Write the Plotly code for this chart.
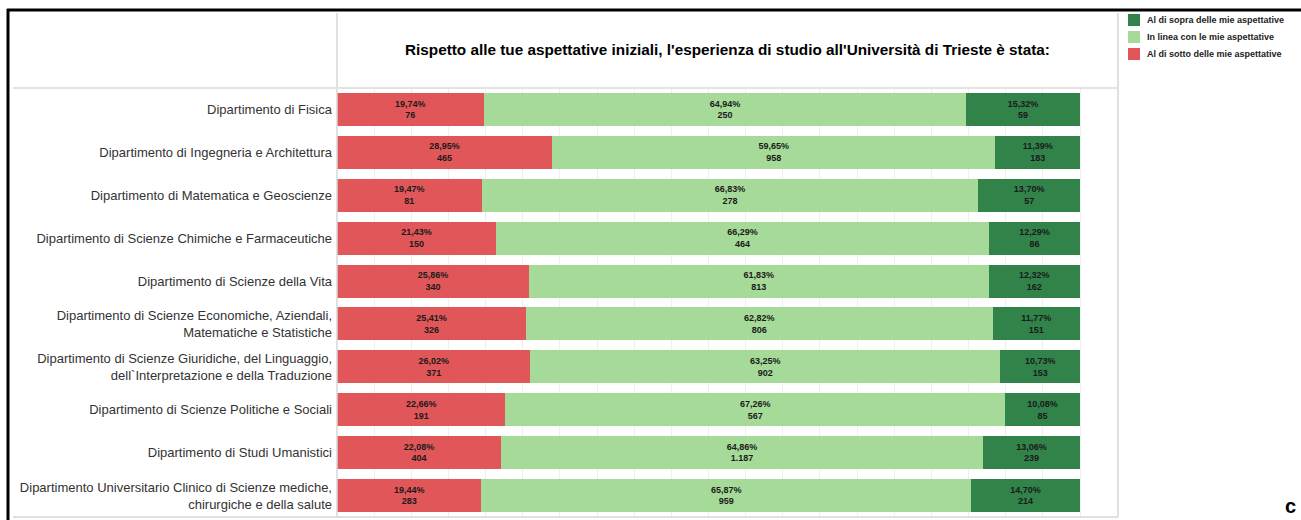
import plotly.graph_objects as go

departments = [
    "Dipartimento di Fisica",
    "Dipartimento di Ingegneria e Architettura",
    "Dipartimento di Matematica e Geoscienze",
    "Dipartimento di Scienze Chimiche e Farmaceutiche",
    "Dipartimento di Scienze della Vita",
    "Dipartimento di Scienze Economiche, Aziendali,<br>Matematiche e Statistiche",
    "Dipartimento di Scienze Giuridiche, del Linguaggio,<br>dell`Interpretazione e della Traduzione",
    "Dipartimento di Scienze Politiche e Sociali",
    "Dipartimento di Studi Umanistici",
    "Dipartimento Universitario Clinico di Scienze mediche,<br>chirurgiche e della salute",
]

below_pct = [19.74, 28.95, 19.47, 21.43, 25.86, 25.41, 26.02, 22.66, 22.08, 19.44]
below_n = [76, 465, 81, 150, 340, 326, 371, 191, 404, 283]
inline_pct = [64.94, 59.65, 66.83, 66.29, 61.83, 62.82, 63.25, 67.26, 64.86, 65.87]
inline_n = [250, 958, 278, 464, 813, 806, 902, 567, 1187, 959]
above_pct = [15.32, 11.39, 13.70, 12.29, 12.32, 11.77, 10.73, 10.08, 13.06, 14.70]
above_n = [59, 183, 57, 86, 162, 151, 153, 85, 239, 214]

series_names = ["Al di sotto delle mie aspettative", "In linea con le mie aspettative", "Al di sopra delle mie aspettative"]
series_colors = ["#E15759", "#A6DA98", "#31834A"]
series_pct = [below_pct, inline_pct, above_pct]
series_n = [below_n, inline_n, above_n]

title_text = "Rispetto alle tue aspettative iniziali, l'esperienza di studio all'Università di Trieste è stata:"

fig = go.Figure()
for name, color, pct, n in zip(series_names, series_colors, series_pct, series_n):
    fig.add_trace(go.Bar(
        y=departments, x=pct, customdata=n, name=name, orientation="h",
        marker=dict(color=color, line=dict(width=0)),
        texttemplate="%{x:.2f}%<br>%{customdata:,}",
        textposition="inside", insidetextanchor="middle", textangle=0,
        textfont=dict(family="Arial", size=9, color="#1a1a1a", weight="bold"),
        showlegend=False, hoverinfo="skip",
    ))

W, H = 781.0, 429.0
def px(x):
    return (x - 337) / W
def py(y):
    return (517 - y) / H

shapes = []
# black frame lines
shapes.append(dict(type="line", xref="paper", yref="paper", x0=px(7), x1=px(1301), y0=py(10), y1=py(10),
                   line=dict(color="black", width=3)))
shapes.append(dict(type="line", xref="paper", yref="paper", x0=px(8), x1=px(8), y0=py(9), y1=py(522),
                   line=dict(color="black", width=3)))
gray = "#d6d6d6"
shapes.append(dict(type="line", xref="paper", yref="paper", x0=0, x1=0, y0=py(13), y1=0, line=dict(color=gray, width=1.5)))
shapes.append(dict(type="line", xref="paper", yref="paper", x0=1, x1=1, y0=py(13), y1=0, line=dict(color=gray, width=1.5)))
shapes.append(dict(type="line", xref="paper", yref="paper", x0=px(13), x1=1, y0=1, y1=1, line=dict(color="#e3e3e3", width=2)))
shapes.append(dict(type="line", xref="paper", yref="paper", x0=px(13), x1=1, y0=0, y1=0, line=dict(color=gray, width=1.5)))

annotations = []
# manual legend (top to bottom: above, inline, below)
legend_rows = [(series_names[2], series_colors[2], 20), (series_names[1], series_colors[1], 37), (series_names[0], series_colors[0], 54)]
for name, color, yc in legend_rows:
    shapes.append(dict(type="rect", xref="paper", yref="paper", x0=px(1128), x1=px(1140), y0=py(yc + 6), y1=py(yc - 6),
                       fillcolor=color, line=dict(width=0)))
    annotations.append(dict(xref="paper", yref="paper", x=px(1145), y=py(yc), text=name, showarrow=False,
                            xanchor="left", yanchor="middle",
                            font=dict(family="Arial", size=9, color="#222", weight="bold")))

annotations.append(dict(xref="paper", yref="paper", x=0.5, y=py(50), text=title_text, showarrow=False,
                        xanchor="center", yanchor="middle",
                        font=dict(family="Arial", size=15.3, color="black", weight="bold")))
annotations.append(dict(xref="paper", yref="paper", x=px(1290), y=py(506), text="c", showarrow=False,
                        xanchor="center", yanchor="middle", borderpad=0,
                        font=dict(family="Arial", size=20, color="black", weight="bold")))

fig.update_layout(
    barmode="stack", bargap=0.23,
    width=1301, height=520,
    margin=dict(l=337, r=183, t=88, b=3, autoexpand=False),
    paper_bgcolor="white", plot_bgcolor="white",
    separators=",.",
    shapes=shapes, annotations=annotations,
    showlegend=False,
    xaxis=dict(range=[0, 105.11], dtick=5, showgrid=True, gridcolor="#efefef", gridwidth=1,
               zeroline=False, showticklabels=False, showline=False, fixedrange=True),
    yaxis=dict(autorange="reversed", showgrid=False, zeroline=False, showline=False,
               ticks="", ticklabelstandoff=4, fixedrange=True,
               tickfont=dict(family="Arial", size=13, color="#333")),
)

fig.write_html("out.html", config={"displayModeBar": False},
               post_script="document.body.style.margin='0';document.body.style.overflow='hidden';")
